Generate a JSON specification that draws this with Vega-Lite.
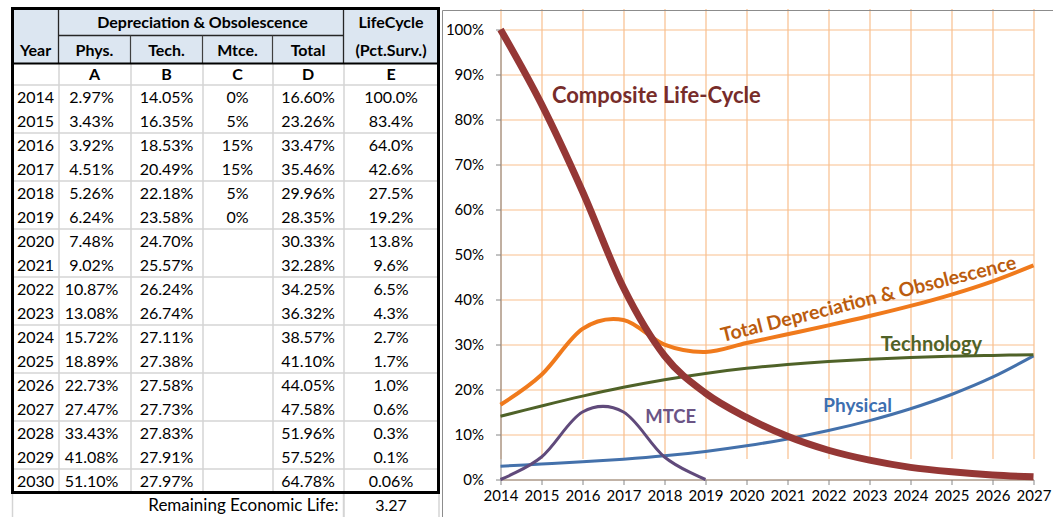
{
 "$schema": "https://vega.github.io/schema/vega-lite/v6.json",
 "padding": {"left": 10.5, "top": 6.5, "right": 0, "bottom": 0},
 "spacing": 62,
 "bounds": "flush",
 "config": {"view": {"stroke": null}, "font": "Lato", "text": {"font": "Lato", "color": "#000000"}},
 "datasets": {
  "rows": [
   {"Year": 2014, "Phys": 0.0297, "Tech": 0.1405, "Mtce": 0, "Total": 0.1660, "Life": 1.000},
   {"Year": 2015, "Phys": 0.0343, "Tech": 0.1635, "Mtce": 0.05, "Total": 0.2326, "Life": 0.834},
   {"Year": 2016, "Phys": 0.0392, "Tech": 0.1853, "Mtce": 0.15, "Total": 0.3347, "Life": 0.640},
   {"Year": 2017, "Phys": 0.0451, "Tech": 0.2049, "Mtce": 0.15, "Total": 0.3546, "Life": 0.426},
   {"Year": 2018, "Phys": 0.0526, "Tech": 0.2218, "Mtce": 0.05, "Total": 0.2996, "Life": 0.275},
   {"Year": 2019, "Phys": 0.0624, "Tech": 0.2358, "Mtce": 0, "Total": 0.2835, "Life": 0.192},
   {"Year": 2020, "Phys": 0.0748, "Tech": 0.2470, "Mtce": null, "Total": 0.3033, "Life": 0.138},
   {"Year": 2021, "Phys": 0.0902, "Tech": 0.2557, "Mtce": null, "Total": 0.3228, "Life": 0.096},
   {"Year": 2022, "Phys": 0.1087, "Tech": 0.2624, "Mtce": null, "Total": 0.3425, "Life": 0.065},
   {"Year": 2023, "Phys": 0.1308, "Tech": 0.2674, "Mtce": null, "Total": 0.3632, "Life": 0.043},
   {"Year": 2024, "Phys": 0.1572, "Tech": 0.2711, "Mtce": null, "Total": 0.3857, "Life": 0.027},
   {"Year": 2025, "Phys": 0.1889, "Tech": 0.2738, "Mtce": null, "Total": 0.4110, "Life": 0.017},
   {"Year": 2026, "Phys": 0.2273, "Tech": 0.2758, "Mtce": null, "Total": 0.4405, "Life": 0.010},
   {"Year": 2027, "Phys": 0.2747, "Tech": 0.2773, "Mtce": null, "Total": 0.4758, "Life": 0.006},
   {"Year": 2028, "Phys": 0.3343, "Tech": 0.2783, "Mtce": null, "Total": 0.5196, "Life": 0.003},
   {"Year": 2029, "Phys": 0.4108, "Tech": 0.2791, "Mtce": null, "Total": 0.5752, "Life": 0.001},
   {"Year": 2030, "Phys": 0.5110, "Tech": 0.2797, "Mtce": null, "Total": 0.6478, "Life": 0.0006}
  ]
 },
 "hconcat": [
  {
   "width": 426,
   "height": 509,
   "data": {"name": "rows"},
   "layer": [
    {
     "data": {"values": [{}]},
     "mark": {"type": "rect", "fill": "#dce6f1"},
     "encoding": {
      "x": {"datum": -0.5, "type": "quantitative", "scale": {"domain": [-0.5, 0.5, 1.5, 2.5, 3.5, 4.5, 5.5], "range": [0, 46, 118, 190, 260, 331, 426], "nice": false, "zero": false},
            "axis": {"values": [-0.5, 0.5, 1.5, 2.5, 3.5, 4.5, 5.5], "grid": true, "gridColor": "#d4d4d4", "gridWidth": 1.5, "labels": false, "ticks": false, "domain": false, "title": null}},
      "x2": {"datum": 5.5},
      "y": {"datum": 2010.5, "type": "quantitative", "scale": {"domain": [2010.5, 2011.5, 2012.5, 2013.5, 2030.5, 2031.5], "range": [0, 27, 55, 76, 484, 509], "nice": false, "zero": false},
            "axis": {"values": [2013.5, 2014.5, 2015.5, 2016.5, 2017.5, 2018.5, 2019.5, 2020.5, 2021.5, 2022.5, 2023.5, 2024.5, 2025.5, 2026.5, 2027.5, 2028.5, 2029.5], "grid": true, "gridColor": "#d4d4d4", "gridWidth": 1.5, "labels": false, "ticks": false, "domain": false, "title": null}},
      "y2": {"datum": 2012.5}
     }
    },
    {
     "data": {"values": [{}]},
     "mark": {"type": "rect", "fill": "#ffffff"},
     "encoding": {
      "x": {"datum": -0.5, "type": "quantitative"},
      "x2": {"datum": 4.5},
      "y": {"datum": 2030.5, "type": "quantitative"},
      "y2": {"datum": 2031.5}
     }
    },
    {
     "data": {"values": [{}]},
     "mark": {"type": "rule", "stroke": "#d4d4d4", "strokeWidth": 1.5},
     "encoding": {"x": {"datum": -0.5, "type": "quantitative"}, "y": {"datum": 2030.5, "type": "quantitative"}, "y2": {"datum": 2031.5}}
    },
    {
     "data": {"values": [{}]},
     "mark": {"type": "rule", "stroke": "#d4d4d4", "strokeWidth": 1.5},
     "encoding": {"x": {"datum": 4.5, "type": "quantitative"}, "y": {"datum": 2030.5, "type": "quantitative"}, "y2": {"datum": 2031.5}}
    },
    {
     "data": {"values": [{}]},
     "mark": {"type": "rule", "stroke": "#262626", "strokeWidth": 1.3},
     "encoding": {"x": {"datum": 0.5, "type": "quantitative"}, "y": {"datum": 2010.5, "type": "quantitative"}, "y2": {"datum": 2012.5}}
    },
    {
     "data": {"values": [{}]},
     "mark": {"type": "rule", "stroke": "#262626", "strokeWidth": 1.3},
     "encoding": {"x": {"datum": 4.5, "type": "quantitative"}, "y": {"datum": 2010.5, "type": "quantitative"}, "y2": {"datum": 2012.5}}
    },
    {
     "data": {"values": [{}]},
     "mark": {"type": "rule", "stroke": "#262626", "strokeWidth": 1.3},
     "encoding": {"x": {"datum": 0.5, "type": "quantitative"}, "x2": {"datum": 4.5}, "y": {"datum": 2011.5, "type": "quantitative"}}
    },
    {
     "data": {"values": [{}]},
     "mark": {"type": "rule", "stroke": "#404040", "strokeWidth": 1.2},
     "encoding": {"x": {"datum": 1.5, "type": "quantitative"}, "y": {"datum": 2011.5, "type": "quantitative"}, "y2": {"datum": 2012.5}}
    },
    {
     "data": {"values": [{}]},
     "mark": {"type": "rule", "stroke": "#404040", "strokeWidth": 1.2},
     "encoding": {"x": {"datum": 2.5, "type": "quantitative"}, "y": {"datum": 2011.5, "type": "quantitative"}, "y2": {"datum": 2012.5}}
    },
    {
     "data": {"values": [{}]},
     "mark": {"type": "rule", "stroke": "#404040", "strokeWidth": 1.2},
     "encoding": {"x": {"datum": 3.5, "type": "quantitative"}, "y": {"datum": 2011.5, "type": "quantitative"}, "y2": {"datum": 2012.5}}
    },
    {
     "data": {"values": [{}]},
     "mark": {"type": "rule", "stroke": "#000000", "strokeWidth": 2.2},
     "encoding": {"x": {"datum": -0.5, "type": "quantitative"}, "x2": {"datum": 5.5}, "y": {"datum": 2012.5, "type": "quantitative"}}
    },
    {
     "data": {"values": [{}]},
     "mark": {"type": "rect", "fillOpacity": 0, "stroke": "#000000", "strokeWidth": 3},
     "encoding": {
      "x": {"datum": -0.5, "type": "quantitative"},
      "x2": {"datum": 5.5},
      "y": {"datum": 2010.5, "type": "quantitative"},
      "y2": {"datum": 2030.5}
     }
    },
    {
     "data": {"values": [{"col": 2.5, "label": "Depreciation & Obsolescence"}, {"col": 5, "label": "LifeCycle"}]},
     "mark": {"type": "text", "fontWeight": "bold", "fontSize": 16, "baseline": "middle", "dy": 1},
     "encoding": {"x": {"field": "col", "type": "quantitative"}, "y": {"datum": 2011, "type": "quantitative"}, "text": {"field": "label"}}
    },
    {
     "data": {"values": [{"col": 0, "label": "Year"}, {"col": 1, "label": "Phys."}, {"col": 2, "label": "Tech."}, {"col": 3, "label": "Mtce."}, {"col": 4, "label": "Total"}, {"col": 5, "label": "(Pct.Surv.)"}]},
     "mark": {"type": "text", "fontWeight": "bold", "fontSize": 16, "baseline": "middle", "dy": 1},
     "encoding": {"x": {"field": "col", "type": "quantitative"}, "y": {"datum": 2012, "type": "quantitative"}, "text": {"field": "label"}}
    },
    {
     "data": {"values": [{"col": 1, "label": "A"}, {"col": 2, "label": "B"}, {"col": 3, "label": "C"}, {"col": 4, "label": "D"}, {"col": 5, "label": "E"}]},
     "mark": {"type": "text", "fontWeight": "bold", "fontSize": 16, "baseline": "middle", "dy": 1},
     "encoding": {"x": {"field": "col", "type": "quantitative"}, "y": {"datum": 2013, "type": "quantitative"}, "text": {"field": "label"}}
    },
    {
     "mark": {"type": "text", "fontSize": 16, "baseline": "middle", "dy": 1},
     "encoding": {"x": {"datum": 0, "type": "quantitative"}, "y": {"field": "Year", "type": "quantitative"}, "text": {"field": "Year", "type": "quantitative", "format": "d"}}
    },
    {
     "mark": {"type": "text", "fontSize": 16, "baseline": "middle", "dy": 1, "dx": -3},
     "encoding": {"x": {"datum": 1, "type": "quantitative"}, "y": {"field": "Year", "type": "quantitative"}, "text": {"field": "Phys", "type": "quantitative", "format": ".2%"}}
    },
    {
     "mark": {"type": "text", "fontSize": 16, "baseline": "middle", "dy": 1},
     "encoding": {"x": {"datum": 2, "type": "quantitative"}, "y": {"field": "Year", "type": "quantitative"}, "text": {"field": "Tech", "type": "quantitative", "format": ".2%"}}
    },
    {
     "transform": [{"filter": "isValid(datum.Mtce)"}],
     "mark": {"type": "text", "fontSize": 16, "baseline": "middle", "dy": 1},
     "encoding": {"x": {"datum": 3, "type": "quantitative"}, "y": {"field": "Year", "type": "quantitative"}, "text": {"field": "Mtce", "type": "quantitative", "format": ".0%"}}
    },
    {
     "mark": {"type": "text", "fontSize": 16, "baseline": "middle", "dy": 1},
     "encoding": {"x": {"datum": 4, "type": "quantitative"}, "y": {"field": "Year", "type": "quantitative"}, "text": {"field": "Total", "type": "quantitative", "format": ".2%"}}
    },
    {
     "transform": [{"filter": "datum.Year <= 2029"}],
     "mark": {"type": "text", "fontSize": 16, "baseline": "middle", "dy": 1},
     "encoding": {"x": {"datum": 5, "type": "quantitative"}, "y": {"field": "Year", "type": "quantitative"}, "text": {"field": "Life", "type": "quantitative", "format": ".1%"}}
    },
    {
     "transform": [{"filter": "datum.Year == 2030"}],
     "mark": {"type": "text", "fontSize": 16, "baseline": "middle", "dy": 1},
     "encoding": {"x": {"datum": 5, "type": "quantitative"}, "y": {"field": "Year", "type": "quantitative"}, "text": {"field": "Life", "type": "quantitative", "format": ".2%"}}
    },
    {
     "data": {"values": [{}]},
     "mark": {"type": "text", "text": "Remaining Economic Life:", "align": "right", "dx": -5, "fontSize": 17, "baseline": "middle", "dy": 1},
     "encoding": {"x": {"datum": 4.5, "type": "quantitative"}, "y": {"datum": 2031, "type": "quantitative"}}
    },
    {
     "data": {"values": [{}]},
     "mark": {"type": "text", "text": "3.27", "fontSize": 16, "baseline": "middle", "dy": 1},
     "encoding": {"x": {"datum": 5, "type": "quantitative"}, "y": {"datum": 2031, "type": "quantitative"}}
    }
   ]
  },
  {
   "width": 533,
   "height": 471,
   "data": {"name": "rows"},
   "layer": [
    {
     "transform": [{"filter": "datum.Year <= 2027"}, {"fold": ["Phys"], "as": ["series", "value"]}],
     "mark": {"type": "line", "interpolate": "cardinal", "stroke": "#4471ab", "strokeWidth": 3},
     "encoding": {
      "x": {"field": "Year", "type": "quantitative", "scale": {"domain": [2014, 2027], "nice": false, "zero": false},
            "axis": {"values": [2014, 2015, 2016, 2017, 2018, 2019, 2020, 2021, 2022, 2023, 2024, 2025, 2026, 2027], "format": "d", "grid": true, "gridColor": "#f9bf8e", "gridWidth": 1.2, "tickColor": "#868686", "tickSize": 5, "domainColor": "#868686", "labelFontSize": 15, "labelColor": "#000000", "labelPadding": 4, "labelFlush": false, "labelOverlap": false, "title": null}},
      "y": {"field": "value", "type": "quantitative", "scale": {"domain": [0, 1], "range": [471, 21], "nice": false, "zero": false},
            "axis": {"values": [0, 0.1, 0.2, 0.3, 0.4, 0.5, 0.6, 0.7, 0.8, 0.9, 1], "format": ".0%", "grid": true, "gridColor": "#f9bf8e", "gridWidth": 1.2, "tickColor": "#868686", "tickSize": 5, "domainColor": "#868686", "labelFontSize": 15, "labelColor": "#000000", "labelPadding": 12, "labelFlush": false, "labelOverlap": false, "title": null}}
     }
    },
    {
     "transform": [{"filter": "datum.Year <= 2027"}, {"fold": ["Tech"], "as": ["series", "value"]}],
     "mark": {"type": "line", "interpolate": "cardinal", "stroke": "#4f6228", "strokeWidth": 3},
     "encoding": {"x": {"field": "Year", "type": "quantitative"}, "y": {"field": "value", "type": "quantitative"}}
    },
    {
     "transform": [{"filter": "datum.Year <= 2027"}, {"fold": ["Total"], "as": ["series", "value"]}],
     "mark": {"type": "line", "interpolate": "cardinal", "stroke": "#f07a1c", "strokeWidth": 4},
     "encoding": {"x": {"field": "Year", "type": "quantitative"}, "y": {"field": "value", "type": "quantitative"}}
    },
    {
     "transform": [{"filter": "datum.Year <= 2027"}, {"fold": ["Mtce"], "as": ["series", "value"]}],
     "mark": {"type": "line", "interpolate": "cardinal", "stroke": "#604a7b", "strokeWidth": 3},
     "encoding": {"x": {"field": "Year", "type": "quantitative"}, "y": {"field": "value", "type": "quantitative"}}
    },
    {
     "transform": [{"filter": "datum.Year <= 2027"}, {"fold": ["Life"], "as": ["series", "value"]}],
     "mark": {"type": "line", "interpolate": "cardinal", "stroke": "#953735", "strokeWidth": 7},
     "encoding": {"x": {"field": "Year", "type": "quantitative"}, "y": {"field": "value", "type": "quantitative"}}
    },
    {
     "data": {"values": [{}]},
     "mark": {"type": "text", "text": "Composite Life-Cycle", "fontSize": 22, "fontWeight": "bold", "fill": "#772c2a", "baseline": "middle"},
     "encoding": {"x": {"datum": 2017.8, "type": "quantitative"}, "y": {"datum": 0.853, "type": "quantitative"}}
    },
    {
     "data": {"values": [{}]},
     "mark": {"type": "text", "text": "Total Depreciation & Obsolescence", "fontSize": 19.5, "fontWeight": "bold", "fill": "#bb5c0e", "baseline": "middle", "angle": -14},
     "encoding": {"x": {"datum": 2022.98, "type": "quantitative"}, "y": {"datum": 0.40, "type": "quantitative"}}
    },
    {
     "data": {"values": [{}]},
     "mark": {"type": "text", "text": "Technology", "fontSize": 20, "fontWeight": "bold", "fill": "#4f6228", "baseline": "middle"},
     "encoding": {"x": {"datum": 2024.51, "type": "quantitative"}, "y": {"datum": 0.30, "type": "quantitative"}}
    },
    {
     "data": {"values": [{}]},
     "mark": {"type": "text", "text": "Physical", "fontSize": 19, "fontWeight": "bold", "fill": "#3d6fb0", "baseline": "middle"},
     "encoding": {"x": {"datum": 2022.71, "type": "quantitative"}, "y": {"datum": 0.1644, "type": "quantitative"}}
    },
    {
     "data": {"values": [{}]},
     "mark": {"type": "text", "text": "MTCE", "fontSize": 18.5, "fontWeight": "bold", "fill": "#6b5485", "baseline": "middle"},
     "encoding": {"x": {"datum": 2018.15, "type": "quantitative"}, "y": {"datum": 0.138, "type": "quantitative"}}
    },
    {
     "data": {"values": [{}]},
     "mark": {"type": "rule", "stroke": "#8c8c8c", "strokeWidth": 1},
     "encoding": {"x": {"datum": 2012.585, "type": "quantitative"}, "x2": {"datum": 2027.49}, "y": {"datum": 1.04222, "type": "quantitative"}}
    },
    {
     "data": {"values": [{}]},
     "mark": {"type": "rule", "stroke": "#8c8c8c", "strokeWidth": 1},
     "encoding": {"x": {"datum": 2012.585, "type": "quantitative"}, "y": {"datum": 1.04222, "type": "quantitative"}, "y2": {"datum": -0.0844}}
    }
   ]
  }
 ]
}
